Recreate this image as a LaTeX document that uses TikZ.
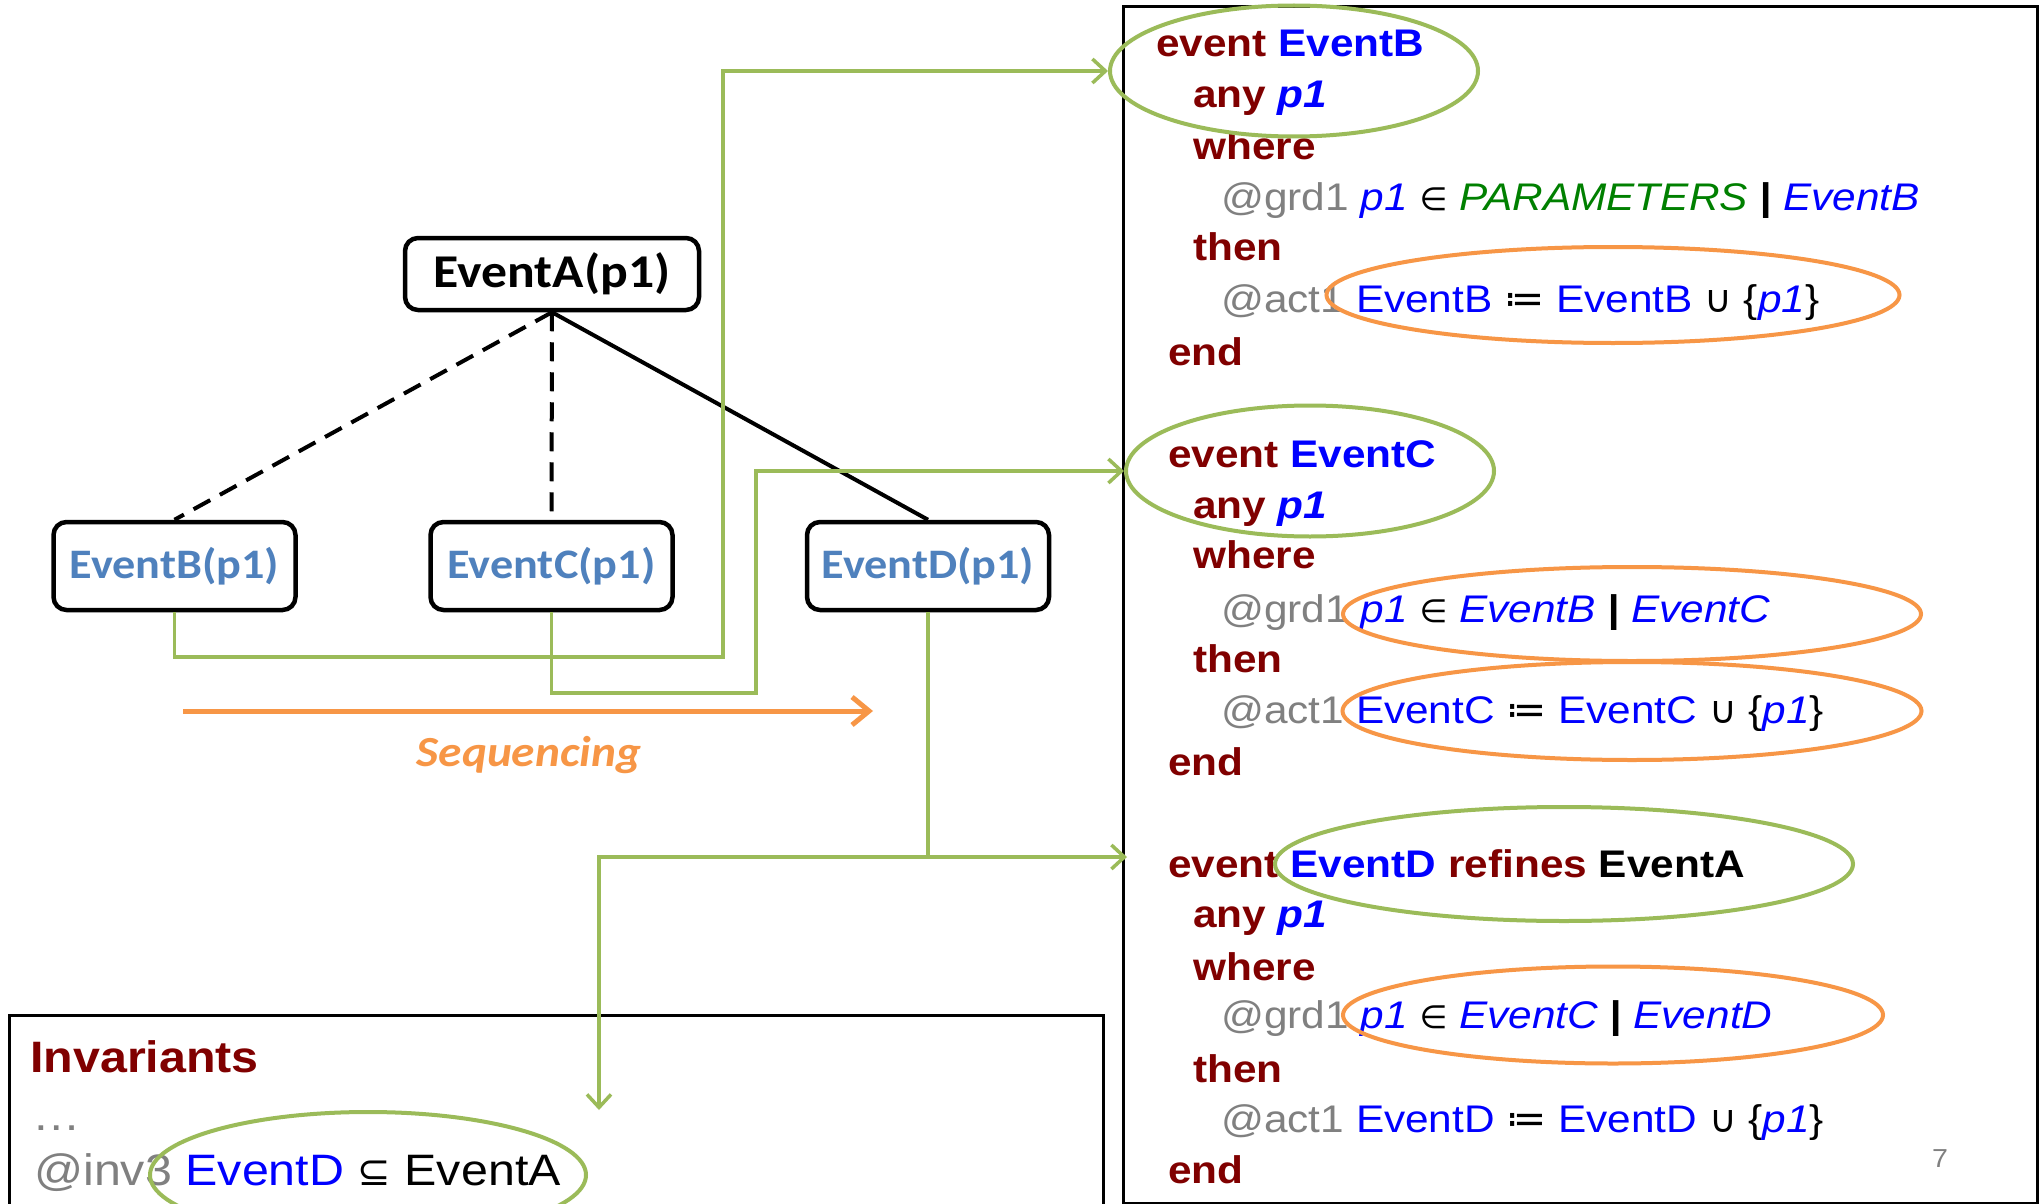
\documentclass[tikz,border=0pt]{standalone}
\usepackage{fontspec}
\setmainfont{Liberation Sans}[FakeStretch=1.1]
\newfontfamily\calfont{Carlito}[FakeStretch=1.1]
\newfontfamily\mathsym{DejaVu Sans}
\usetikzlibrary{arrows.meta,shapes.geometric}

\definecolor{kwred}{HTML}{800000}
\definecolor{idblue}{HTML}{0000FF}
\definecolor{prmgreen}{HTML}{008000}
\definecolor{tagGray}{HTML}{808080}
\definecolor{linegreen}{HTML}{9BBB59}
\definecolor{seqorange}{HTML}{F79646}
\definecolor{nodeblue}{HTML}{4F81BD}

% Event-B keyword, identifier and label helpers
\newcommand\kwd[1]{{\color{kwred}\bfseries #1}}
\newcommand\idn[1]{{\color{idblue}#1}}
\newcommand\tagg[1]{{\color{tagGray}#1}}
\newcommand\elemsym{{\mathsym\itshape\fontsize{32}{36}\selectfont ∈}}
\newcommand\vbarsym{{\bfseries\itshape |}}
\newcommand\assignsym{{\mathsym\fontsize{40}{44}\selectfont ≔}}
\newcommand\unionsym{{\mathsym\fontsize{38}{44}\selectfont ∪}}
\newcommand\subsetsym{{\mathsym\fontsize{40}{44}\selectfont ⊆}}

\begin{document}
\begin{tikzpicture}[x=1pt,y=-1pt,
  codeline/.style={anchor=base west, inner sep=0pt, font=\fontsize{38.5}{46}\selectfont},
  invline/.style={anchor=base west, inner sep=0pt, font=\fontsize{44}{52}\selectfont},
  evtbox/.style={draw, line width=4.5pt, rounded corners=13pt, minimum width=242pt,
    minimum height=88pt, inner sep=0pt, text=nodeblue,
    font=\calfont\bfseries\fontsize{42}{50}\selectfont},
  topbox/.style={evtbox, minimum width=294pt, minimum height=72pt, text=black,
    font=\calfont\bfseries\fontsize{47}{55}\selectfont},
  link/.style={line width=4pt},
  conn/.style={draw=linegreen, line width=3.5pt, -{Straight Barb[length=13pt,width=24pt]}},
  hilite/.style={ellipse, draw, line width=4pt, inner sep=0pt},
]
\clip (0,0) rectangle (2043,1204);
\fill[white] (0,0) rectangle (2043,1204);

% ---------- refinement tree ----------
\node[topbox] (evA) at (552,274) {EventA(p1)};
\node[evtbox] (evB) at (174.5,566) {EventB(p1)};
\node[evtbox] (evC) at (551.5,566) {EventC(p1)};
\node[evtbox] (evD) at (928,566) {EventD(p1)};

\draw[link, dash pattern=on 19pt off 11pt] (evA.south) -- (evB.north);
\draw[link, dash pattern=on 19pt off 11pt] (evA.south) -- (evC.north);
\draw[link] (evA.south) -- (evD.north);

% ---------- sequencing ----------
\coordinate (seqS) at (183,711);
\coordinate (seqE) at (873,711);
\draw[seqorange, line width=5pt, -{Straight Barb[length=17pt,width=28pt]}] (seqS) -- (seqE);
\node[anchor=base, inner sep=0pt, text=seqorange,
  font=\calfont\bfseries\itshape\fontsize{43}{50}\selectfont] (seqlbl) at (529,766) {Sequencing};

% ---------- machine text ----------
\draw[line width=3pt] (1123,7) rectangle (2037,1203);

\node[codeline] (b1a) at (1156,57) {\kwd{event} \idn{\bfseries EventB}};
\node[codeline] (b1b) at (1193,108) {\kwd{any} \idn{\bfseries\itshape p1}};
\node[codeline] (b1c) at (1193,160) {\kwd{where}};
\node[codeline] (b1d) at (1221,210) {\tagg{@grd1} \idn{\itshape p1} \elemsym{} {\color{prmgreen}\itshape PARAMETERS} \vbarsym{} \idn{\itshape EventB}};
\node[codeline] (b1e) at (1193,260) {\kwd{then}};
\node[codeline] (b1f) at (1221,312) {\tagg{@act1} \idn{EventB} \assignsym{} \idn{EventB} \unionsym{} \{\idn{\itshape p1}\}};
\node[codeline] (b1g) at (1168,365) {\kwd{end}};

\node[codeline] (b2a) at (1168,467) {\kwd{event} \idn{\bfseries EventC}};
\node[codeline] (b2b) at (1193,518) {\kwd{any} \idn{\bfseries\itshape p1}};
\node[codeline] (b2c) at (1193,568) {\kwd{where}};
\node[codeline] (b2d) at (1221,622) {\tagg{@grd1} \idn{\itshape p1} \elemsym{} \idn{\itshape EventB} \vbarsym{} \idn{\itshape EventC}};
\node[codeline] (b2e) at (1193,672) {\kwd{then}};
\node[codeline] (b2f) at (1221,723) {\tagg{@act1} \idn{EventC} \assignsym{} \idn{EventC} \unionsym{} \{\idn{\itshape p1}\}};
\node[codeline] (b2g) at (1168,775) {\kwd{end}};

\node[codeline] (b3a) at (1168,877) {\kwd{event} \idn{\bfseries EventD} \kwd{refines} {\bfseries EventA}};
\node[codeline] (b3b) at (1193,927) {\kwd{any} \idn{\bfseries\itshape p1}};
\node[codeline] (b3c) at (1193,980) {\kwd{where}};
\node[codeline] (b3d) at (1221,1028) {\tagg{@grd1} \idn{\itshape p1} \elemsym{} \idn{\itshape EventC} \vbarsym{} \idn{\itshape EventD}};
\node[codeline] (b3e) at (1193,1082) {\kwd{then}};
\node[codeline] (b3f) at (1221,1132) {\tagg{@act1} \idn{EventD} \assignsym{} \idn{EventD} \unionsym{} \{\idn{\itshape p1}\}};
\node[codeline] (b3g) at (1168,1183) {\kwd{end}};

\node[anchor=base, inner sep=0pt, text=tagGray, font=\fontsize{26}{30}\selectfont] (pgno) at (1940,1167) {7};

% ---------- invariants ----------
\draw[line width=3pt] (9,1230) -- (9,1015) -- (1103,1015) -- (1103,1230);
\node[invline] (invh) at (30,1072) {\kwd{Invariants}};
\node[invline] (invd) at (32,1130) {\tagg{…}};
\node[invline] (invl) at (34,1185) {\tagg{@inv3} \idn{EventD} \subsetsym{} EventA};

% ---------- highlights ----------
\node[hilite, draw=linegreen, minimum width=368pt, minimum height=131pt] (g1) at (1294,71) {};
\node[hilite, draw=linegreen, minimum width=368pt, minimum height=131pt] (g2) at (1310,471) {};
\node[hilite, draw=linegreen, minimum width=578pt, minimum height=114pt] (g3) at (1564,864) {};
\node[hilite, draw=linegreen, minimum width=436pt, minimum height=126pt] (g4) at (368,1175) {};
\node[hilite, draw=seqorange, minimum width=573pt, minimum height=96pt] (o1) at (1613,295) {};
\node[hilite, draw=seqorange, minimum width=578pt, minimum height=94pt] (o2) at (1632,614) {};
\node[hilite, draw=seqorange, minimum width=579pt, minimum height=98pt] (o3) at (1632,711) {};
\node[hilite, draw=seqorange, minimum width=540pt, minimum height=97pt] (o4) at (1613,1015) {};

% ---------- correspondence arrows ----------
\coordinate (bendB) at (723,657);
\coordinate (bendC) at (756,693);
\coordinate (tipD) at (1127,857);
\coordinate (tipInv) at (599,1110);
\draw[conn] (evB.south) |- (bendB) |- (g1.west);
\draw[conn] (evC.south) |- (bendC) |- (g2.west);
\draw[conn] (evD.south) |- (tipD);
\draw[conn] (evD.south |- tipD) -| (tipInv);
\end{tikzpicture}
\end{document}
